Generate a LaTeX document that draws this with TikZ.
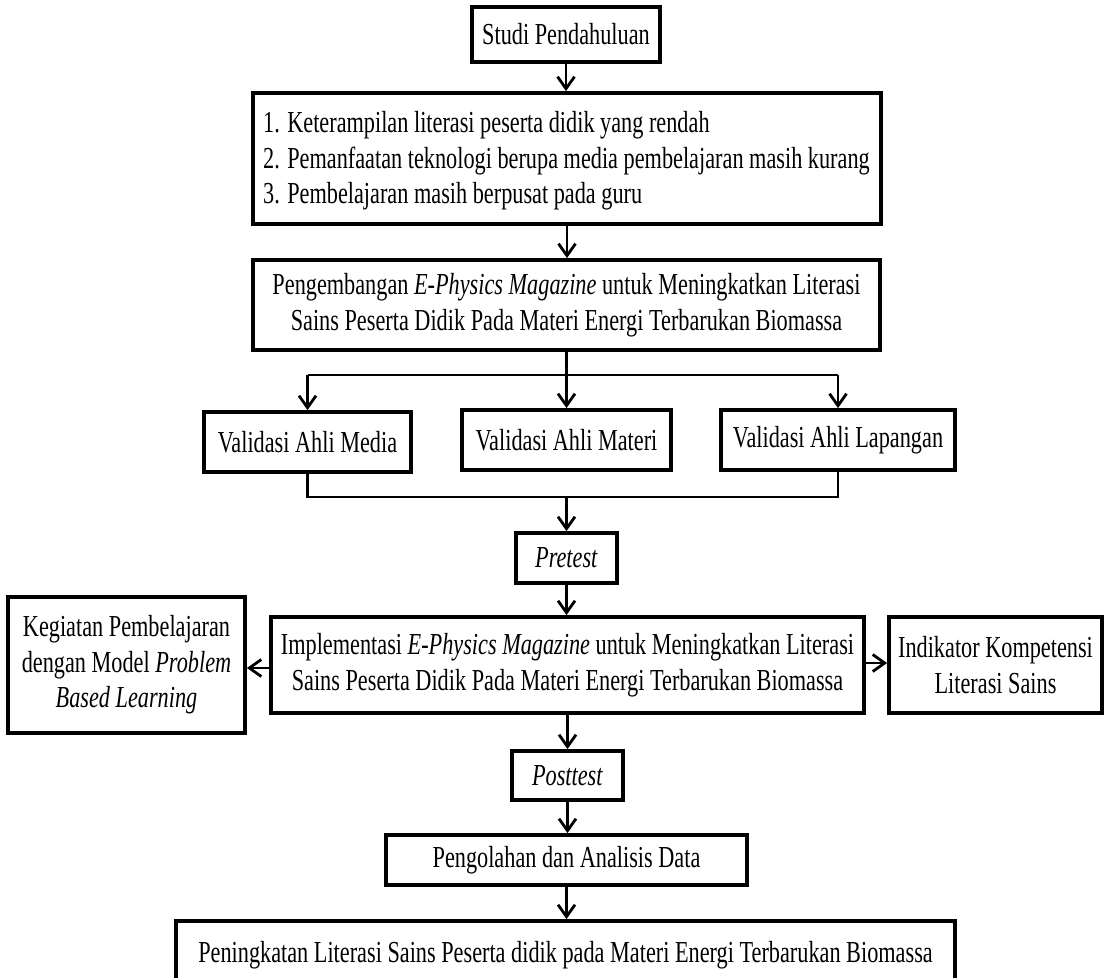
\documentclass[tikz,border=0pt]{standalone}
\usepackage{fontspec}
\setmainfont{Liberation Serif}[FakeStretch=0.73]
\usetikzlibrary{arrows.meta}
\begin{document}
\begin{tikzpicture}[x=1pt,y=-1pt,
  txt/.style={inner sep=0pt, font=\fontsize{30.5}{35.5}\selectfont},
  fbox/.style={txt, draw=black, line width=3.8pt, fill=white, align=center},
  conn/.style={line width=2.8pt, draw=black},
  arr/.style={conn, -{Straight Barb[length=12pt,width=17pt,line width=2.8pt]}}
]
\clip (0,0) rectangle (1105,977);
\fill[white] (0,0) rectangle (1105,977);

\node[fbox, minimum width=188pt, minimum height=55pt] (studi) at (566,34.5) {Studi Pendahuluan};
\node[fbox, minimum width=628pt, minimum height=131pt] (list) at (567,158.5) {};
\node[txt, anchor=west, align=left] (listtext) at (263,161)
  {1. Keterampilan literasi peserta didik yang rendah\\
   2. Pemanfaatan teknologi berupa media pembelajaran masih kurang\\
   3. Pembelajaran masih berpusat pada guru};
\node[fbox, minimum width=627pt, minimum height=90pt] (peng) at (566.5,305)
  {Pengembangan \textit{E-Physics Magazine} untuk Meningkatkan Literasi\\
   Sains Peserta Didik Pada Materi Energi Terbarukan Biomassa};
\node[fbox, minimum width=207pt, minimum height=60pt] (vmedia) at (307.5,442) {Validasi Ahli Media};
\node[fbox, minimum width=209pt, minimum height=60pt] (vmateri) at (566.5,440) {Validasi Ahli Materi};
\node[fbox, minimum width=234pt, minimum height=60pt] (vlap) at (838,440) {Validasi Ahli Lapangan};
\node[fbox, minimum width=101pt, minimum height=50pt] (pre) at (566.5,558) {\textit{Pretest}};
\node[fbox, minimum width=593pt, minimum height=96pt] (impl) at (567.5,665)
  {Implementasi \textit{E-Physics Magazine} untuk Meningkatkan Literasi\\
   Sains Peserta Didik Pada Materi Energi Terbarukan Biomassa};
\node[fbox, minimum width=237pt, minimum height=136pt] (keg) at (126.5,665)
  {Kegiatan Pembelajaran\\ dengan Model \textit{Problem}\\ \textit{Based Learning}};
\node[fbox, minimum width=213pt, minimum height=96pt] (ind) at (995.5,665)
  {Indikator Kompetensi\\ Literasi Sains};
\node[fbox, minimum width=111pt, minimum height=49pt] (post) at (567.5,775.5) {\textit{Posttest}};
\node[fbox, minimum width=361pt, minimum height=50pt] (olah) at (566.5,860) {Pengolahan dan Analisis Data};
\node[fbox, minimum width=779pt, minimum height=69pt] (ningkat) at (565.5,955.5)
  {Peningkatan Literasi Sains Peserta didik pada Materi Energi Terbarukan Biomassa};

% connectors
\draw[arr] (studi.south) -- (studi.south |- list.north);
\draw[arr] (list.south) -- (list.south |- peng.north);

\coordinate (j1) at (566.5,375);
\coordinate (jl) at (307.5,375);
\coordinate (jr) at (838,375);
\draw[conn] (peng.south) -- (j1);
\draw[conn] (jl) -- (jr);
\draw[arr] (jl) -- (vmedia.north);
\draw[arr] (j1) -- (vmateri.north);
\draw[arr] (jr) -- (vlap.north);

\coordinate (kl) at (307.5,497);
\coordinate (kr) at (838,497);
\coordinate (k1) at (566.5,497);
\draw[conn] (vmedia.south) -- (kl) -- (kr) -- (vlap.south);
\draw[arr] (k1) -- (pre.north);

\draw[arr] (pre.south) -- (pre.south |- impl.north);
\draw[arr] (impl.west |- 0,668) -- (keg.east |- 0,668);
\draw[arr] (impl.east |- 0,663) -- (ind.west |- 0,663);
\draw[arr] (impl.south -| post.north) -- (post.north);
\draw[arr] (post.south) -- (post.south |- olah.north);
\draw[arr] (olah.south) -- (olah.south |- ningkat.north);
\end{tikzpicture}
\end{document}
